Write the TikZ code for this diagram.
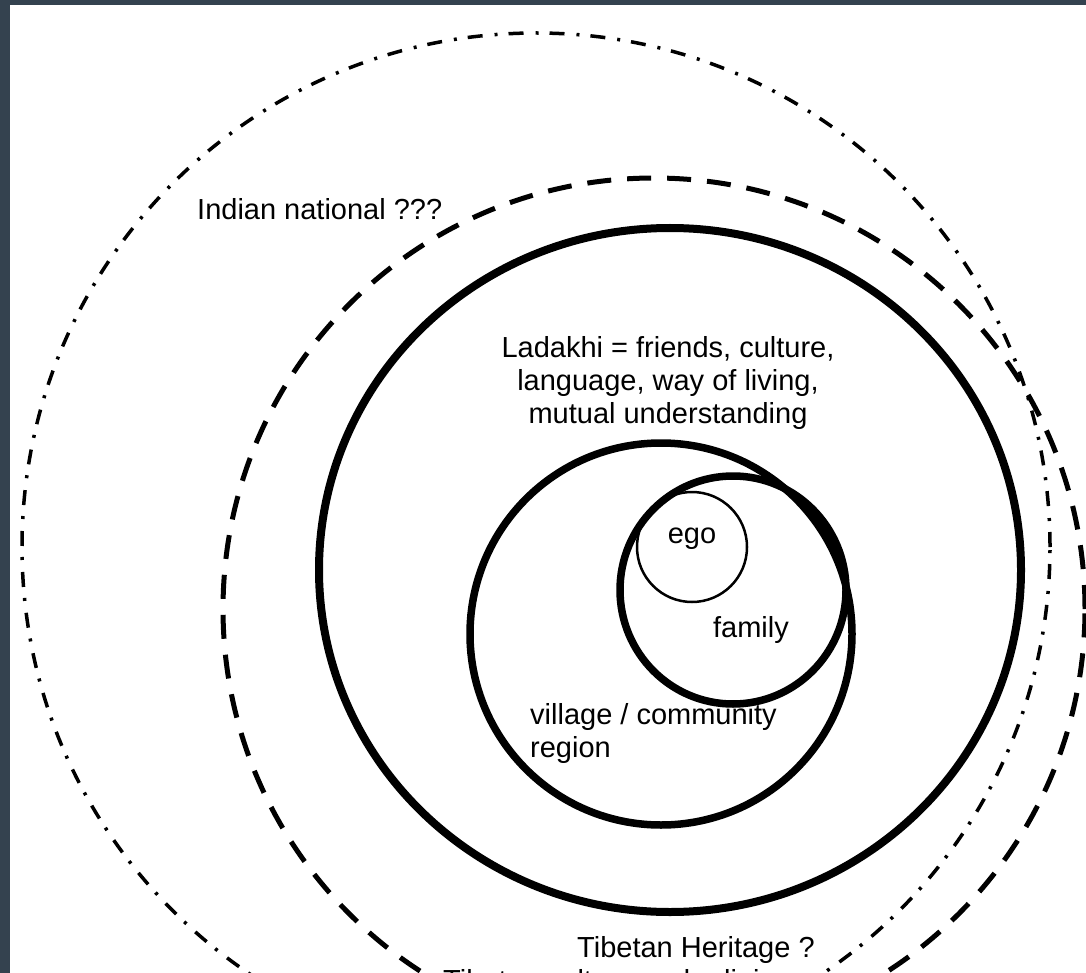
\documentclass[tikz,border=0pt]{standalone}
\usepackage{fontspec}
\setmainfont{Liberation Sans}
\usepackage{xcolor}
\usepackage{tikz}
\usetikzlibrary{shapes.geometric, positioning}

\definecolor{frameslate}{HTML}{34424F}

\begin{document}
\begin{tikzpicture}[x=1pt, y=-1pt,
    ring/.style={draw, ellipse, inner sep=0pt, outer sep=0pt},
    thickring/.style={ring, line width=7.5pt},
    dashring/.style={ring, line width=5pt, dash pattern=on 24pt off 16pt},
    dotring/.style={ring, line width=3.5pt, dash pattern=on 15pt off 11pt on 3pt off 12pt},
    txt/.style={inner sep=0pt, font=\fontsize{29}{33}\selectfont}]
    % frame and page
    \useasboundingbox (0,0) rectangle (1086,973);
    \fill[frameslate] (0,0) rectangle (1086,973);
    \fill[white] (10,5) rectangle (1086,973);
    \clip (10,5) rectangle (1086,973);

    % rings, outside in
    \node[dotring, minimum width=1028pt, minimum height=1028pt] (tibetan) at (536,547) {};
    \node[dashring, minimum width=862pt, minimum height=862pt] (indian) at (654,609) {};
    \node[thickring, line width=8pt, minimum width=702pt, minimum height=684pt] (ladakhi) at (670,570) {};
    \node[thickring, minimum width=382pt, minimum height=382pt] (village) at (661,634) {};
    \node[thickring, minimum width=226pt, minimum height=228pt] (family) at (733,590) {};
    \node[ring, line width=2.5pt, minimum width=110pt, minimum height=110pt] (ego) at (692,547) {};

    % labels
    \node[txt, anchor=base west] (indianlabel) at (197,220) {Indian national ???};
    \node[txt, anchor=base] (ladakhiline1) at (668,357) {Ladakhi = friends, culture,};
    \node[txt, anchor=base] (ladakhiline2) at ([yshift=-33pt]ladakhiline1.base) {language, way of living,};
    \node[txt, anchor=base] (ladakhiline3) at ([yshift=-33pt]ladakhiline2.base) {mutual understanding};
    \node[txt, anchor=base] (egolabel) at (692,543) {ego};
    \node[txt, anchor=base] (familylabel) at (751,637) {family};
    \node[txt, anchor=base west] (villageline1) at (530,724) {village / community};
    \node[txt, anchor=base west] (villageline2) at ([yshift=-33pt]villageline1.base west) {region};
    \node[txt, anchor=base west] (tibetanline1) at (577,957) {Tibetan Heritage ?};
    \node[txt, anchor=base west] (tibetanline2) at ([yshift=-33pt]tibetanline1.base west -| 443,0) {Tibetan culture and religion};
\end{tikzpicture}
\end{document}
